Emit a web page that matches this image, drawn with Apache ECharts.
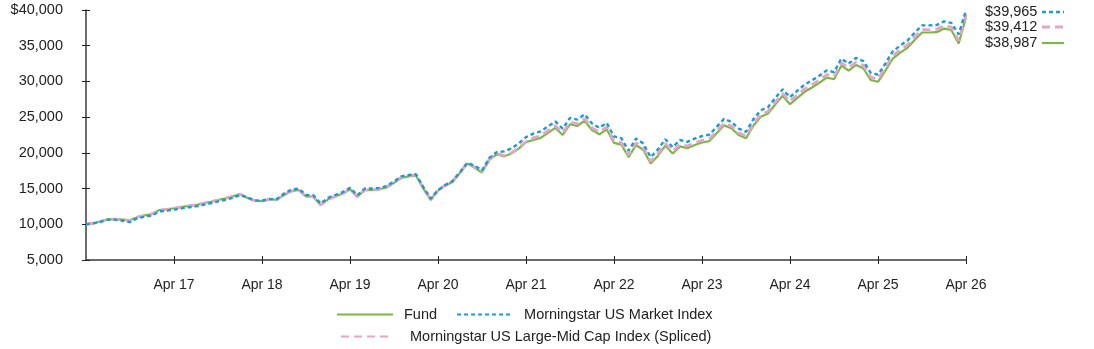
<!DOCTYPE html>
<html>
<head>
<meta charset="UTF-8">
<script src="https://cdn.jsdelivr.net/npm/echarts@6/dist/echarts.min.js"></script>
<style>
  html, body { margin: 0; padding: 0; background: #fff; }
  #main { width: 1094px; height: 349px; }
</style>
</head>
<body>
<div id="main"></div>
<script>
// monthly values, Apr 2016 .. Apr 2026 (growth of $10,000)
const fund = [
  10000, 10150, 10400, 10700, 10720, 10650, 10550, 11000, 11250, 11440,
  12000, 12100, 12250, 12420, 12580, 12700, 12930, 13150, 13400, 13620,
  13900, 14240, 13700, 13300, 13250, 13500, 13450, 14100, 14650, 14800,
  13900, 13860, 12700, 13500, 13900, 14300, 14900, 13860, 14800, 14800,
  14900, 15150, 15800, 16500, 16700, 16800, 15000, 13400, 14700, 15400,
  15960, 17200, 18500, 17900, 17250, 19000, 19800, 19500, 19900, 20600,
  21500, 21800, 22100, 22800, 23500, 22500, 24000, 23760, 24500, 23200,
  22600, 23300, 21400, 21150, 19400, 21100, 20400, 18500, 19600, 21000,
  19900, 20900, 20650, 21100, 21450, 21650, 22740, 23850, 23450, 22500,
  22050, 23800, 25050, 25500, 26800, 28000, 26800, 27700, 28550, 29150,
  29800, 30550, 30300, 32200, 31500, 32300, 31850, 30200, 29950, 31500,
  33200, 34000, 34700, 35800, 36850, 36850, 36900, 37400, 37200, 35300,
  38987
];
const largeMid = [
  10000, 10150, 10400, 10700, 10720, 10650, 10550, 11000, 11250, 11440,
  12000, 12100, 12250, 12420, 12580, 12700, 12930, 13150, 13400, 13620,
  13900, 14240, 13700, 13300, 13250, 13500, 13450, 14100, 14650, 14800,
  13900, 13860, 12700, 13500, 13900, 14300, 14900, 13860, 14800, 14800,
  14900, 15250, 15900, 16600, 16800, 16900, 15100, 13500, 14800, 15500,
  16060, 17300, 18600, 18000, 17350, 19100, 19900, 19600, 20000, 20700,
  21600, 22100, 22400, 23100, 23800, 22800, 24300, 24060, 24800, 23500,
  22900, 23600, 21700, 21450, 19700, 21400, 20700, 18800, 19900, 21300,
  20200, 21200, 20950, 21400, 21750, 21950, 23040, 24150, 23750, 22800,
  22350, 24100, 25350, 25800, 27100, 28300, 27200, 28100, 28950, 29550,
  30200, 30950, 30700, 32600, 31900, 32700, 32250, 30600, 30350, 31900,
  33600, 34400, 35100, 36200, 37250, 37250, 37300, 37800, 37600, 35700,
  39412
];
const market = [
  10000, 10120, 10350, 10650, 10650, 10500, 10300, 10850, 11050, 11240,
  11800, 11900, 12050, 12220, 12380, 12500, 12730, 12950, 13200, 13420,
  13700, 14100, 13750, 13350, 13300, 13550, 13500, 14300, 14850, 15000,
  14100, 14060, 12900, 13700, 14100, 14500, 15100, 14060, 15000, 15000,
  15100, 15350, 16000, 16700, 16900, 17000, 15200, 13600, 14800, 15500,
  16060, 17300, 18600, 18200, 17550, 19300, 20100, 20200, 20600, 21300,
  22200, 22700, 23000, 23700, 24400, 23400, 24900, 24660, 25400, 24100,
  23500, 24200, 22300, 22050, 20300, 22000, 21300, 19400, 20500, 21900,
  20800, 21800, 21550, 22000, 22350, 22550, 23640, 24750, 24350, 23400,
  22950, 24700, 25950, 26400, 27700, 28900, 27800, 28700, 29550, 30150,
  30800, 31550, 31300, 33200, 32500, 33300, 32850, 31200, 30950, 32500,
  34200, 35000, 35700, 36800, 37850, 37850, 37900, 38400, 38200, 36600,
  39965
];
const monthNames = ['Jan', 'Feb', 'Mar', 'Apr', 'May', 'Jun', 'Jul', 'Aug', 'Sep', 'Oct', 'Nov', 'Dec'];
const months = [];
for (let i = 0; i < fund.length; i++) {
  const m = (3 + i) % 12;
  const y = 16 + Math.floor((3 + i) / 12);
  months.push(monthNames[m] + ' ' + y);
}
const yTicks = [5000, 10000, 15000, 20000, 25000, 30000, 35000, 40000];

const names = ['Fund', 'Morningstar US Market Index', 'Morningstar US Large-Mid Cap Index (Spliced)'];
const green = '#7ab844', blue = '#1a9ad6', pink = '#e8a4c4';
const font = 'Liberation Sans, Arial, sans-serif';
const fmt = v => v.toLocaleString('en-US');
const yearTick = idx => idx > 0 && idx % 12 === 0;

const chart = echarts.init(document.getElementById('main'));
chart.setOption({
  animation: false,
  textStyle: { fontFamily: font },
  grid: { left: 86, right: 128, top: 10, bottom: 89 },
  xAxis: [{
    type: 'category', data: months, boundaryGap: false,
    axisLine: { lineStyle: { color: '#3a3a3a', width: 1.5 } },
    axisTick: { interval: yearTick, length: 4, lineStyle: { color: '#222' } },
    axisLabel: { interval: yearTick, color: '#222', fontSize: 14, margin: 18 }
  }, {
    type: 'category', data: months, boundaryGap: false, position: 'bottom',
    axisLine: { show: false },
    axisTick: { interval: yearTick, inside: true, length: 4, lineStyle: { color: '#222' } },
    axisLabel: { show: false }
  }],
  yAxis: [{
    type: 'value', min: yTicks[0], max: yTicks[yTicks.length - 1], interval: 5000,
    splitLine: { show: false },
    axisLine: { show: true, lineStyle: { color: '#3a3a3a', width: 1.5 } },
    axisTick: { show: true, length: 4, lineStyle: { color: '#222' } },
    axisLabel: { color: '#222', fontSize: 14.5, margin: 23,
      formatter: v => (v === 40000 ? '$' : '') + fmt(v) }
  }, {
    type: 'value', min: yTicks[0], max: yTicks[yTicks.length - 1], interval: 5000,
    position: 'left', splitLine: { show: false },
    axisLine: { show: false },
    axisTick: { show: true, inside: true, length: 4, lineStyle: { color: '#222' } },
    axisLabel: { show: false }
  }],
  legend: [{
    data: [names[0], names[1]], left: 336, top: 307, padding: 0,
    itemWidth: 56, itemHeight: 14, itemGap: 19,
    itemStyle: { opacity: 0 },
    textStyle: { fontSize: 14.5, color: '#222', padding: [0, 0, 0, 6] }
  }, {
    data: [names[2]], left: 340, top: 329, padding: 0,
    itemWidth: 52, itemHeight: 14,
    itemStyle: { opacity: 0 },
    textStyle: { fontSize: 14.5, color: '#222', padding: [0, 0, 0, 12] }
  }],
  series: [{
    name: names[0], type: 'line', data: fund, symbol: 'none',
    lineStyle: { color: green, width: 2.2 }, itemStyle: { color: green }, z: 2
  }, {
    name: names[2], type: 'line', data: largeMid, symbol: 'none',
    lineStyle: { color: pink, width: 2.8, type: [8, 5] }, itemStyle: { color: pink }, z: 3
  }, {
    name: names[1], type: 'line', data: market, symbol: 'none',
    lineStyle: { color: blue, width: 2.4, type: [4, 3] }, itemStyle: { color: blue }, z: 4
  }],
  graphic: [
    { type: 'text', x: 985, y: 12, style: { text: '$' + fmt(market[market.length - 1]), font: '14.5px ' + font, fill: '#222', verticalAlign: 'middle' } },
    { type: 'line', shape: { x1: 1042, y1: 12, x2: 1064, y2: 12 }, style: { stroke: blue, lineWidth: 2.4, lineDash: [4, 3] } },
    { type: 'text', x: 985, y: 27, style: { text: '$' + fmt(largeMid[largeMid.length - 1]), font: '14.5px ' + font, fill: '#222', verticalAlign: 'middle' } },
    { type: 'line', shape: { x1: 1042, y1: 27, x2: 1064, y2: 27 }, style: { stroke: pink, lineWidth: 2.8, lineDash: [8, 5] } },
    { type: 'text', x: 985, y: 43, style: { text: '$' + fmt(fund[fund.length - 1]), font: '14.5px ' + font, fill: '#222', verticalAlign: 'middle' } },
    { type: 'line', shape: { x1: 1042, y1: 43, x2: 1064, y2: 43 }, style: { stroke: green, lineWidth: 2.2 } }
  ]
});
</script>
</body>
</html>
